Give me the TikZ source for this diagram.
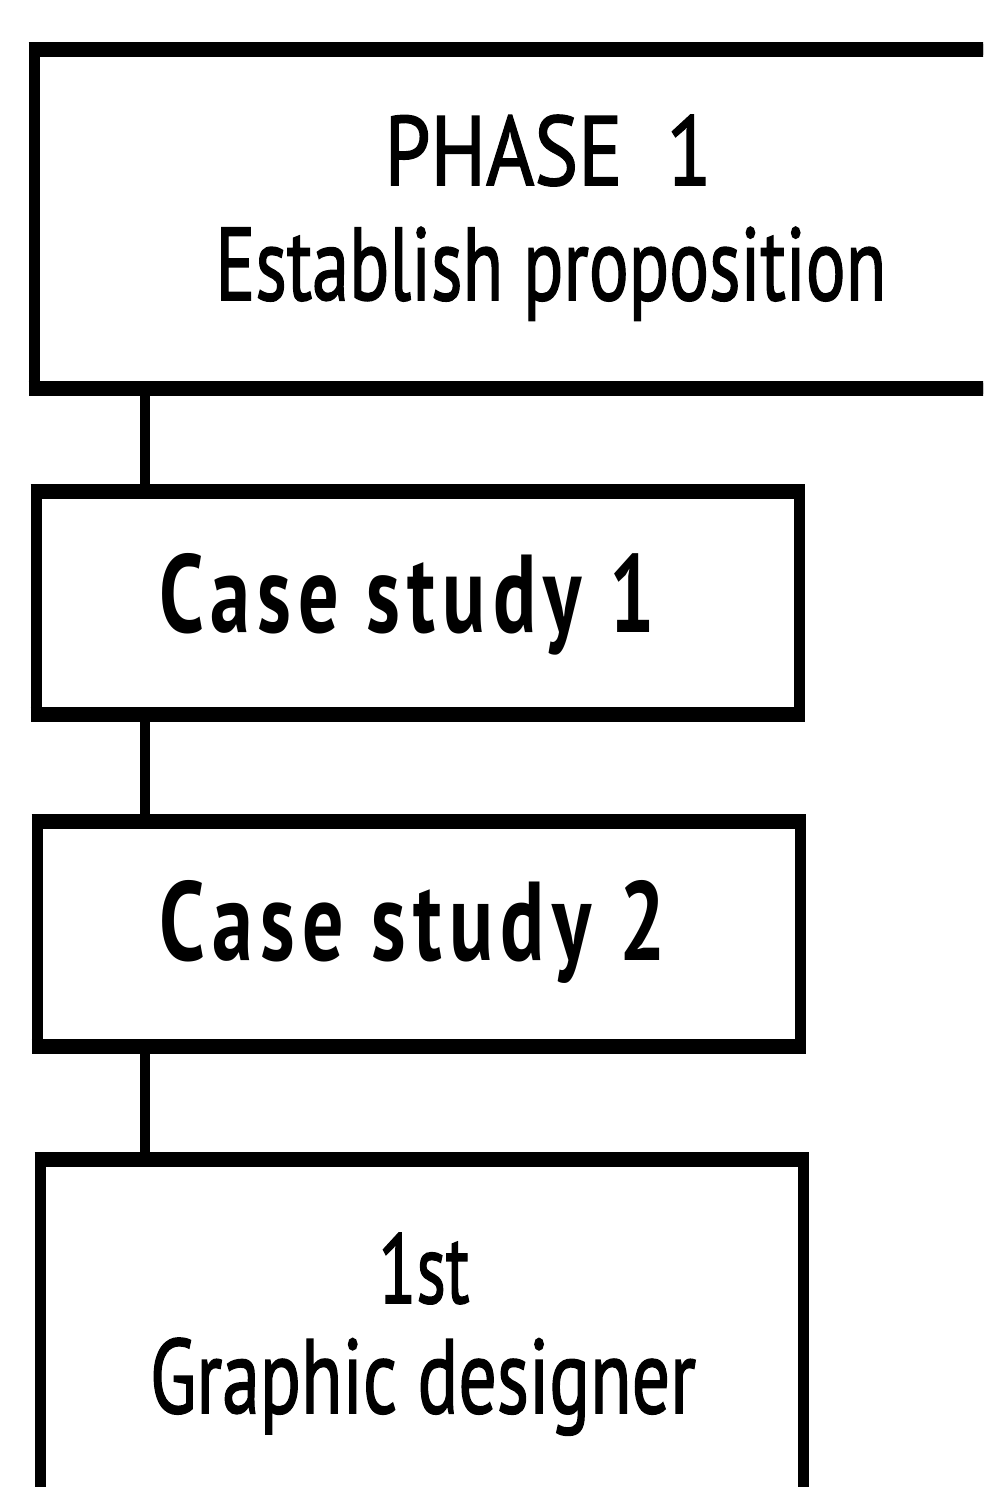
\documentclass[tikz,border=0pt]{standalone}
\usepackage{fontspec}
\setmainfont{PT Sans}
\newfontfamily\medfont{PT Sans}[FakeBold=1.6]
\newfontfamily\spacedbold{PT Sans Bold}[LetterSpace=9]
\usepackage{graphicx}
\begin{document}
\begin{tikzpicture}[x=1pt,y=-1pt,
  frame/.style={draw=none,inner sep=0pt,outer sep=0pt,anchor=north west},
  vedge/.style={line width=11pt,line join=miter},
  hedge/.style={line width=15pt,line cap=butt},
  link/.style={line width=10pt,line cap=butt},
  label/.style={inner sep=0pt,outer sep=0pt,anchor=base}]
  \useasboundingbox (0,0) rectangle (983,1487);
  \clip (0,0) rectangle (983,1487);
  \fill[white] (0,0) rectangle (983,1487);

  % box outlines (the first runs off the right edge, the last off the bottom)
  \node[frame,minimum width=990pt,minimum height=338pt] (phase) at (34,50) {};
  \node[frame,minimum width=763pt,minimum height=223pt] (cs1) at (36,491) {};
  \node[frame,minimum width=763pt,minimum height=225pt] (cs2) at (37,821) {};
  \node[frame,minimum width=763pt,minimum height=400pt] (gd) at (40,1159) {};

  \foreach \b in {phase,cs1,cs2,gd}{
    \draw[vedge] (\b.north west) rectangle (\b.south east);
    \draw[hedge] ([xshift=-5.5pt]\b.north west) -- ([xshift=5.5pt]\b.north east);
    \draw[hedge] ([xshift=-5.5pt]\b.south west) -- ([xshift=5.5pt]\b.south east);
  }

  % vertical spine joining the boxes
  \coordinate (spine) at (145,0);
  \draw[link] (phase.south -| spine) -- (cs1.north -| spine);
  \draw[link] (cs1.south -| spine) -- (cs2.north -| spine);
  \draw[link] (cs2.south -| spine) -- (gd.north -| spine);

  % texts
  \node[label] (t1) at (548,185) {\resizebox{327pt}{70pt}{\medfont PHASE\ \ 1}};
  \node[label] (t2) at (551,300) {\resizebox{671pt}{73pt}{\medfont Establish proposition}};
  \node[label] (t3) at (407,632) {\resizebox{495pt}{79pt}{\spacedbold Case study 1}};
  \node[label] (t4) at (413,960) {\resizebox{506pt}{80pt}{\spacedbold Case study 2}};
  \node[label] (t5) at (424,1303) {\resizebox{91pt}{70pt}{\medfont 1st}};
  \node[label] (t6) at (423,1413) {\resizebox{546pt}{75pt}{\medfont Graphic designer}};
\end{tikzpicture}
\end{document}
